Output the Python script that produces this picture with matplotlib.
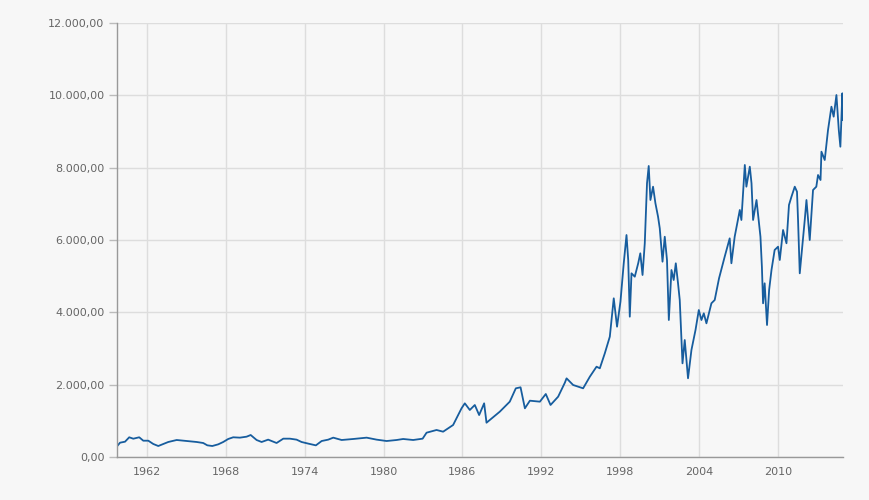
import matplotlib
matplotlib.use("Agg")
import matplotlib.pyplot as plt
from matplotlib.ticker import FuncFormatter

# Zeit (Dezimaljahre) und Indexstand
jahre = [
    1959.76, 1959.95, 1960.33, 1960.65, 1960.96, 1961.41, 1961.72, 1962.10,
    1962.48, 1962.86, 1963.24, 1963.62, 1964.26, 1965.02, 1965.78, 1966.28,
    1966.59, 1966.97, 1967.42, 1967.80, 1968.18, 1968.56, 1969.07, 1969.58,
    1969.89, 1970.34, 1970.72, 1971.22, 1971.86, 1972.37, 1972.87, 1973.38,
    1973.76, 1974.27, 1974.85, 1975.29, 1975.79, 1976.17, 1976.81, 1977.69,
    1978.71, 1979.47, 1980.23, 1980.99, 1981.49, 1982.25, 1982.97, 1983.27,
    1984.03, 1984.53, 1985.29, 1985.93, 1986.18, 1986.56, 1986.94, 1987.27,
    1987.65, 1987.83, 1988.84, 1989.60, 1990.06, 1990.42, 1990.75, 1991.13,
    1991.89, 1992.34, 1992.70, 1993.28, 1993.79, 1993.92, 1994.42, 1995.18,
    1995.69, 1996.20, 1996.45, 1996.83, 1997.21, 1997.51, 1997.76, 1998.02,
    1998.27, 1998.48, 1998.61, 1998.73, 1998.86, 1999.11, 1999.37, 1999.53,
    1999.70, 1999.87, 2000.04, 2000.17, 2000.30, 2000.50, 2000.68, 2000.88,
    2001.01, 2001.22, 2001.39, 2001.56, 2001.70, 2001.90, 2002.07, 2002.23,
    2002.40, 2002.53, 2002.74, 2002.91, 2003.04, 2003.16, 2003.42, 2003.73,
    2003.98, 2004.18, 2004.36, 2004.56, 2004.94, 2005.19, 2005.52, 2005.95,
    2006.33, 2006.46, 2006.71, 2007.10, 2007.22, 2007.48, 2007.60, 2007.86,
    2007.99, 2008.11, 2008.37, 2008.67, 2008.78, 2008.87, 2008.99, 2009.17,
    2009.33, 2009.51, 2009.75, 2010.01, 2010.14, 2010.39, 2010.65, 2010.84,
    2011.03, 2011.28, 2011.45, 2011.53, 2011.66, 2011.85, 2012.04, 2012.17,
    2012.42, 2012.67, 2012.92, 2013.05, 2013.24, 2013.31, 2013.56, 2013.81,
    2014.07, 2014.24, 2014.45, 2014.63, 2014.75, 2014.90, 2014.95,
]
werte = [
    312, 396, 423, 545, 506, 545, 451, 451,
    360, 304, 360, 415, 470, 442, 415, 387,
    323, 304, 350, 415, 498, 545, 535, 562,
    608, 470, 415, 480, 387, 507, 507, 480,
    415, 370, 322, 442, 480, 535, 470, 498,
    535, 480, 442, 470, 498, 470, 507, 672,
    747, 700, 885, 1346, 1484, 1300, 1438, 1160,
    1484, 948, 1253, 1530, 1899, 1927, 1346, 1557,
    1530, 1742, 1438, 1668, 2054, 2175, 1991, 1899,
    2220, 2497, 2452, 2867, 3327, 4388, 3603, 4295,
    5356, 6138, 5447, 3880, 5079, 4986, 5356, 5632,
    5032, 5909, 7567, 8046, 7106, 7474, 7015, 6644,
    6323, 5400, 6091, 5447, 3788, 5170, 4894, 5356,
    4802, 4341, 2590, 3235, 2682, 2176, 2958, 3512,
    4064, 3788, 3973, 3696, 4250, 4341, 4941, 5539,
    6046, 5356, 6091, 6830, 6553, 8074, 7474, 8027,
    7567, 6553, 7106, 6091, 5262, 4250, 4802, 3650,
    4618, 5170, 5724, 5815, 5447, 6277, 5909, 6968,
    7197, 7474, 7336, 6553, 5079, 5815, 6553, 7106,
    6000, 7382, 7474, 7797, 7659, 8442, 8212, 9041,
    9686, 9410, 10009, 9041, 8580, 10056, 9318,
]

x_ticks = [1962, 1968, 1974, 1980, 1986, 1992, 1998, 2004, 2010]
y_ticks = [0, 2000, 4000, 6000, 8000, 10000, 12000]


def de_format(v, pos):
    # deutsches Zahlenformat: 12.000,00
    s = f"{v:,.2f}"
    return s.replace(",", "X").replace(".", ",").replace("X", ".")


fig = plt.figure(figsize=(8.7, 5), dpi=100, facecolor="#f7f7f7")
ax = fig.add_axes([117 / 870, 43 / 500, 726 / 870, 434 / 500])
ax.set_facecolor("#f7f7f7")

ax.plot(jahre, werte, color="#175d9e", linewidth=1.3)

ax.set_xlim(1959.72, 2014.95)
ax.set_ylim(0, 12000)
ax.set_xticks(x_ticks)
ax.set_yticks(y_ticks)
ax.yaxis.set_major_formatter(FuncFormatter(de_format))

ax.grid(True, color="#dddddd", linewidth=1)
ax.set_axisbelow(True)
for side in ["top", "right"]:
    ax.spines[side].set_visible(False)
for side in ["left", "bottom"]:
    ax.spines[side].set_color("#999999")
    ax.spines[side].set_linewidth(1)

ax.tick_params(axis="y", length=6, width=1, color="#bbbbbb", pad=3,
               labelsize=8, labelcolor="#666666")
ax.tick_params(axis="x", length=0, pad=7, labelsize=8, labelcolor="#666666")

fig.savefig("out.png", dpi=100, facecolor=fig.get_facecolor())
